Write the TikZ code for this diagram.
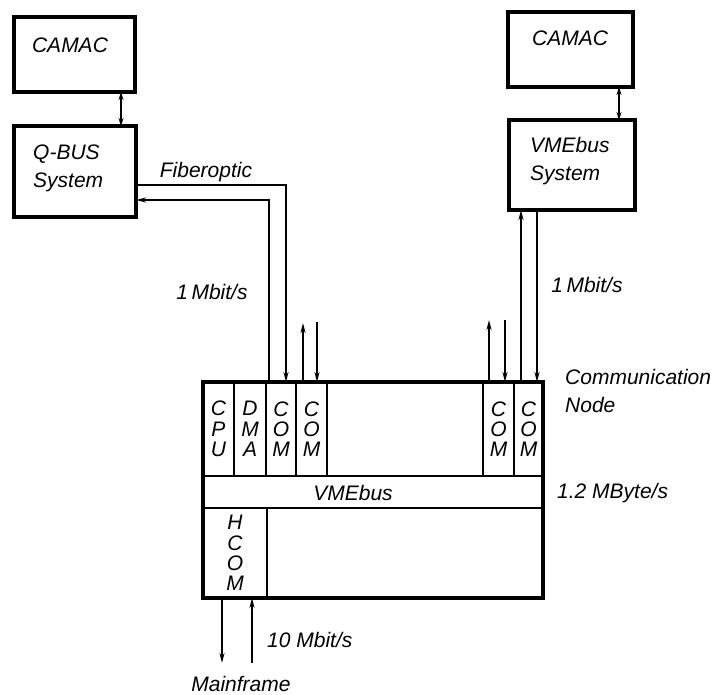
\documentclass[tikz,border=0pt]{standalone}
\usepackage{fontspec}
\setmainfont{Liberation Sans}
\usetikzlibrary{positioning, arrows.meta}
\tikzset{
  blk/.style={draw, line width=3.2pt, inner sep=0pt, outer sep=0pt},
  cell/.style={draw, line width=1.8pt, inner sep=0pt, outer sep=0pt,
               align=center, font=\fontsize{21}{20.3}\selectfont\itshape},
  lbl/.style={inner sep=0pt, align=left, font=\fontsize{21}{28}\selectfont\itshape},
  sig/.style={line width=1.7pt, -{Stealth[length=10pt,width=5pt]}},
  bisig/.style={line width=1.7pt, {Stealth[length=8pt,width=5pt]}-{Stealth[length=8pt,width=5pt]}}
}

\begin{document}
\begin{tikzpicture}[x=1pt, y=-1pt]
    \useasboundingbox (0,0) rectangle (722,695);
    % upper systems
    \node[blk, minimum width=121pt, minimum height=75pt] (camacL) at (74.5,54.5) {};
    \node[lbl, anchor=center] (camacLt) at (70,45) {CAMAC};
    \node[blk, minimum width=122pt, minimum height=91pt] (qbus) at (75,171.5) {};
    \node[lbl, anchor=west] (qbust) at (33,168) {Q-BUS\\System};
    \node[blk, minimum width=125pt, minimum height=75pt] (camacR) at (570.5,49.5) {};
    \node[lbl, anchor=center] (camacRt) at (570,38) {CAMAC};
    \node[blk, minimum width=126pt, minimum height=90pt] (vmesys) at (572,165) {};
    \node[lbl, anchor=west] (vmesyst) at (530,161) {VMEbus\\System};
    % communication node
    \node[cell, minimum width=31pt, minimum height=94pt] (cpu) at (218.5,429) {C\\P\\U};
    \node[cell, minimum width=32pt, minimum height=94pt] (dma) at (250,429) {D\\M\\A};
    \node[cell, minimum width=30pt, minimum height=94pt] (comA) at (281,429) {C\\O\\M};
    \node[cell, minimum width=31pt, minimum height=94pt] (comB) at (311.5,429) {C\\O\\M};
    \node[cell, minimum width=31pt, minimum height=94pt] (comC) at (498.5,429) {C\\O\\M};
    \node[cell, minimum width=29pt, minimum height=94pt] (comD) at (528.5,429) {C\\O\\M};
    \node[cell, minimum width=340pt, minimum height=32pt] (vme) at (373,492) {};
    \node[lbl, anchor=center] (vmet) at (353,493) {VMEbus};
    \node[cell, minimum width=64pt, minimum height=90pt] (hcom) at (235,553) {H\\C\\O\\M};
    \node[blk, minimum width=340pt, minimum height=216pt] (cnode) at (373,490) {};
    % free ends
    \coordinate (bUp) at (303,323);
    \coordinate (bDn) at (317,322);
    \coordinate (cUp) at (489,320);
    \coordinate (cDn) at (505,320);
    \coordinate (mfDn) at (222,663);
    \coordinate (mfUp) at (252,663);
    % connectors
    \draw[bisig] ([xshift=46.5pt]camacL.south) -- ([xshift=46pt]qbus.north);
    \draw[bisig] ([xshift=48.5pt]camacR.south) -- ([xshift=47pt]vmesys.north);
    \draw[sig] ([yshift=-13.5pt]qbus.east) -| ([xshift=5pt]comA.north);
    \draw[sig] ([xshift=-12pt]comA.north) |- ([yshift=-28.5pt]qbus.east);
    \draw[sig] (comB.north -| bUp) -- (bUp);
    \draw[sig] (bDn) -- (comB.north -| bDn);
    \draw[sig] (comC.north -| cUp) -- (cUp);
    \draw[sig] (cDn) -- (comC.north -| cDn);
    \draw[sig] ([xshift=-7.5pt]comD.north) -- ([xshift=-7.5pt]comD.north |- vmesys.south);
    \draw[sig] ([xshift=8.5pt]comD.north |- vmesys.south) -- ([xshift=8.5pt]comD.north);
    \draw[sig] (hcom.south -| mfDn) -- (mfDn);
    \draw[sig] (mfUp) -- (hcom.south -| mfUp);
    % labels
    \node[lbl, anchor=center] (fiber) at (206,172) {Fiberoptic};
    \node[lbl, anchor=center] (rateL) at (212,292) {1\,Mbit/s};
    \node[lbl, anchor=center] (rateR) at (587,285) {1\,Mbit/s};
    \node[lbl, anchor=west] (cntext) at (565,391) {Communication\\Node};
    \node[lbl, anchor=west] (busrate) at (557,493) {1.2 MByte/s};
    \node[lbl, anchor=west] (hostrate) at (267,640) {10 Mbit/s};
    \node[lbl, anchor=center] (mainf) at (241,684) {Mainframe};
\end{tikzpicture}
\end{document}
